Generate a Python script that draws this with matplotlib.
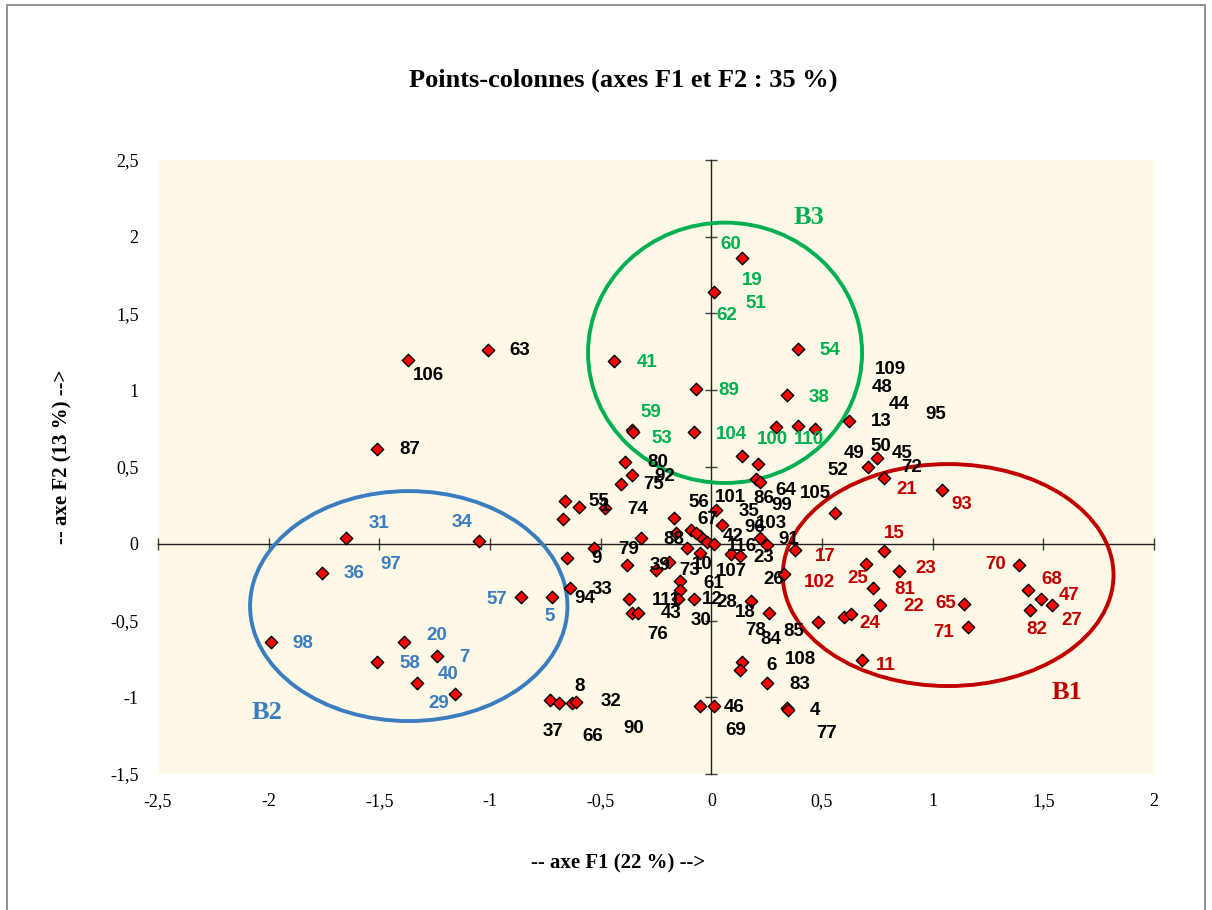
import matplotlib.pyplot as plt
from matplotlib.patches import Ellipse, Rectangle

# column points, coordinates on F1 / F2
f1 = [-1.37, -1.51, -1.01, -1.65, -1.05, -1.76, -1.99, -1.39, -1.24, -1.51, -1.33, -1.16,
      -0.86, -0.72, -0.44, -0.07, -0.36, -0.355, -0.08, -0.39, -0.36, -0.41, -0.66, -0.60,
      -0.48, -0.67, -0.17, -0.32, -0.53, -0.65, -0.38, -0.25, -0.19, -0.16, -0.09, -0.05,
      -0.02, 0.01, -0.11, -0.05, 0.02, 0.05, 0.09, 0.13, 0.22, 0.25, 0.38, 0.33, -0.14,
      -0.14, -0.15, -0.08, -0.64, -0.37, -0.36, -0.33, -0.73, -0.69, -0.63, -0.61, -0.05,
      0.01, 0.14, 0.01, 0.39, 0.34, 0.29, 0.39, 0.47, 0.62, 0.14, 0.21, 0.20, 0.22, 0.71,
      0.75, 0.78, 0.56, 1.04, 0.18, 0.26, 0.14, 0.13, 0.25, 0.34, 0.345, 0.48, 0.60, 0.63,
      0.68, 0.78, 0.70, 0.85, 0.73, 0.76, 1.14, 1.16, 1.39, 1.43, 1.49, 1.54, 1.44, -0.07]
f2 = [1.20, 0.62, 1.26, 0.04, 0.02, -0.19, -0.64, -0.64, -0.73, -0.77, -0.91, -0.98,
      -0.35, -0.35, 1.19, 1.01, 0.74, 0.725, 0.73, 0.53, 0.45, 0.39, 0.28, 0.24,
      0.23, 0.16, 0.17, 0.04, -0.03, -0.09, -0.14, -0.17, -0.12, 0.07, 0.09, 0.05,
      0.01, 0.00, -0.03, -0.06, 0.22, 0.12, -0.07, -0.08, 0.04, -0.01, -0.04, -0.20, -0.24,
      -0.30, -0.36, -0.36, -0.29, -0.36, -0.45, -0.45, -1.02, -1.04, -1.04, -1.03, -1.06,
      -1.06, 1.86, 1.64, 1.27, 0.97, 0.76, 0.77, 0.75, 0.80, 0.57, 0.52, 0.42, 0.40, 0.50,
      0.56, 0.43, 0.20, 0.35, -0.37, -0.45, -0.77, -0.82, -0.91, -1.07, -1.08, -0.51, -0.48, -0.46,
      -0.76, -0.05, -0.13, -0.18, -0.29, -0.40, -0.39, -0.54, -0.14, -0.30, -0.36, -0.40, -0.43, 0.07]

# labels outside the groups (black)
other_txt = ['106', '87', '63', '80', '92', '75', '55', '1', '74', '56', '67', '88', '79', '9',
             '39', '73', '10', '94', '33', '111', '43', '76', '61', '12', '28', '30', '8', '32',
             '37', '66', '90', '46', '69', '101', '86', '64', '99', '105', '35', '96', '103', '42',
             '116', '91', '23', '107', '26', '18', '78', '84', '85', '6', '108', '83', '4', '77',
             '109', '48', '44', '95', '13', '49', '50', '45', '72', '52']
other_x = [-1.280, -1.362, -0.864, -0.244, -0.209, -0.259, -0.506, -0.480, -0.333, -0.056, -0.018,
           -0.167, -0.375, -0.518, -0.232, -0.096, -0.043, -0.571, -0.495, -0.202, -0.183, -0.242,
           0.009, 0.002, 0.070, -0.047, -0.596, -0.455, -0.714, -0.538, -0.349, 0.104, 0.112,
           0.088, 0.235, 0.338, 0.318, 0.471, 0.170, 0.197, 0.273, 0.099, 0.137, 0.352, 0.238,
           0.092, 0.280, 0.152, 0.202, 0.268, 0.371, 0.270, 0.404, 0.401, 0.469, 0.521,
           0.808, 0.770, 0.850, 1.015, 0.767, 0.645, 0.767, 0.860, 0.906, 0.573]
other_y = [1.099, 0.611, 1.258, 0.528, 0.441, 0.387, 0.274, 0.241, 0.224, 0.267, 0.161,
           0.029, -0.036, -0.095, -0.140, -0.176, -0.138, -0.355, -0.297, -0.371, -0.453, -0.590,
           -0.258, -0.366, -0.384, -0.500, -0.931, -1.029, -1.224, -1.257, -1.202, -1.065, -1.218,
           0.303, 0.296, 0.346, 0.246, 0.329, 0.209, 0.107, 0.133, 0.046, -0.019, 0.029, -0.088,
           -0.182, -0.236, -0.449, -0.566, -0.622, -0.573, -0.790, -0.751, -0.920, -1.088, -1.239,
           1.136, 1.019, 0.910, 0.839, 0.795, 0.591, 0.632, 0.585, 0.498, 0.474]

# group B1 (red)
b1_txt = ['21', '93', '15', '17', '102', '25', '23', '81', '22', '24', '65', '71', '11',
          '70', '68', '47', '27', '82']
b1_x = [0.883, 1.131, 0.827, 0.514, 0.488, 0.662, 0.969, 0.875, 0.913, 0.715, 1.059, 1.048,
        0.789, 1.286, 1.538, 1.618, 1.629, 1.470]
b1_y = [0.355, 0.257, 0.070, -0.084, -0.254, -0.225, -0.160, -0.295, -0.410, -0.521, -0.388,
        -0.577, -0.790, -0.138, -0.236, -0.334, -0.501, -0.557]

# group B2 (blue)
b2_txt = ['31', '34', '36', '97', '98', '20', '7', '58', '40', '29', '57', '5']
b2_x = [-1.500, -1.127, -1.613, -1.447, -1.845, -1.241, -1.117, -1.362, -1.188, -1.230,
        -0.967, -0.729]
b2_y = [0.133, 0.137, -0.197, -0.138, -0.653, -0.599, -0.740, -0.779, -0.855, -1.039,
        -0.360, -0.475]

# group B3 (green)
b3_txt = ['60', '19', '51', '62', '54', '41', '89', '38', '59', '53', '104', '100', '110']
b3_x = [0.089, 0.183, 0.201, 0.070, 0.536, -0.292, 0.077, 0.488, -0.272, -0.224, 0.092,
        0.276, 0.443]
b3_y = [1.951, 1.718, 1.566, 1.490, 1.262, 1.182, 0.997, 0.954, 0.854, 0.687, 0.713,
        0.682, 0.680]

x_ticks = [-2.5, -2, -1.5, -1, -0.5, 0, 0.5, 1, 1.5, 2]
y_ticks = [-1.5, -1, -0.5, 0, 0.5, 1, 1.5, 2, 2.5]

RED = '#C00000'
BLUE = '#3A7DC0'
GREEN = '#00B050'
SERIF = 'Liberation Serif'
SANS = 'Liberation Sans'


def fr(v):
    return f'{v:g}'.replace('.', ',')


fig = plt.figure(figsize=(12.12, 9.10), dpi=100)
fig.add_artist(Rectangle((7 / 1212, -0.01), 1198 / 1212, 1.01 - 5 / 910,
                         transform=fig.transFigure, fill=False, ec='#808080', lw=1.2))

ax = fig.add_axes([158 / 1212, 136 / 910, 996 / 1212, 614 / 910])
ax.set_facecolor('#FEF8E6')
ax.set_xlim(-2.5, 2)
ax.set_ylim(-1.5, 2.5)
for s in ax.spines.values():
    s.set_visible(False)
ax.set_xticks(x_ticks)
ax.set_xticklabels([fr(v) for v in x_ticks], family=SERIF, fontsize=13)
ax.set_yticks(y_ticks)
ax.set_yticklabels([fr(v) for v in y_ticks], family=SERIF, fontsize=13)
ax.tick_params(axis='x', length=0, pad=14)
ax.tick_params(axis='y', length=0, pad=14)

# axes crossing at the origin
y0 = (0 - y_ticks[0]) / (y_ticks[-1] - y_ticks[0])
x0 = (0 - x_ticks[0]) / (x_ticks[-1] - x_ticks[0])
secx = ax.secondary_xaxis(y0)
secx.set_xticks(x_ticks)
secx.tick_params(direction='inout', length=8, width=1, color='#404040',
                 labelbottom=False, labeltop=False)
secy = ax.secondary_yaxis(x0)
secy.set_yticks(y_ticks)
secy.tick_params(direction='inout', length=8, width=1, color='#404040',
                 labelleft=False, labelright=False)
for sa in (secx, secy):
    for s in sa.spines.values():
        s.set_color('#202020')
        s.set_linewidth(1)

# group outlines
ax.add_patch(Ellipse((0.062, 1.244), 1.238, 1.696, fill=False, ec=GREEN, lw=2.8))
ax.add_patch(Ellipse((-1.367, -0.406), 1.434, 1.498, fill=False, ec=BLUE, lw=2.8))
ax.add_patch(Ellipse((1.070, -0.204), 1.494, 1.446, fill=False, ec=RED, lw=2.8))

ax.scatter(f1, f2, marker='D', s=40, c='#FF0000', edgecolors='black', linewidths=1, zorder=2)

for txt, xs, ys, col in [(other_txt, other_x, other_y, 'black'),
                         (b1_txt, b1_x, b1_y, RED),
                         (b2_txt, b2_x, b2_y, BLUE),
                         (b3_txt, b3_x, b3_y, GREEN)]:
    for t, x, y in zip(txt, xs, ys):
        ax.text(x, y, t, color=col, fontsize=13.5, fontweight='bold', family=SANS,
                ha='center', va='center', zorder=3)

ax.text(1.606, -0.970, 'B1', color=RED, fontsize=19, fontweight='bold', family=SERIF,
        ha='center', va='center')
ax.text(-2.009, -1.101, 'B2', color=BLUE, fontsize=19, fontweight='bold', family=SERIF,
        ha='center', va='center')
ax.text(0.443, 2.127, 'B3', color=GREEN, fontsize=19, fontweight='bold', family=SERIF,
        ha='center', va='center')

fig.text(623 / 1212, 1 - 80 / 910, 'Points-colonnes (axes F1 et F2 : 35 %)',
         fontsize=19, fontweight='bold', family=SERIF, ha='center', va='center')
fig.text(618 / 1212, 1 - 863 / 910, '-- axe F1 (22 %) -->',
         fontsize=15, fontweight='bold', family=SERIF, ha='center', va='center')
fig.text(62 / 1212, 1 - 457 / 910, '-- axe F2 (13 %) -->', rotation=90,
         fontsize=15, fontweight='bold', family=SERIF, ha='center', va='center')

fig.savefig('out.png', dpi=100, facecolor='white')
